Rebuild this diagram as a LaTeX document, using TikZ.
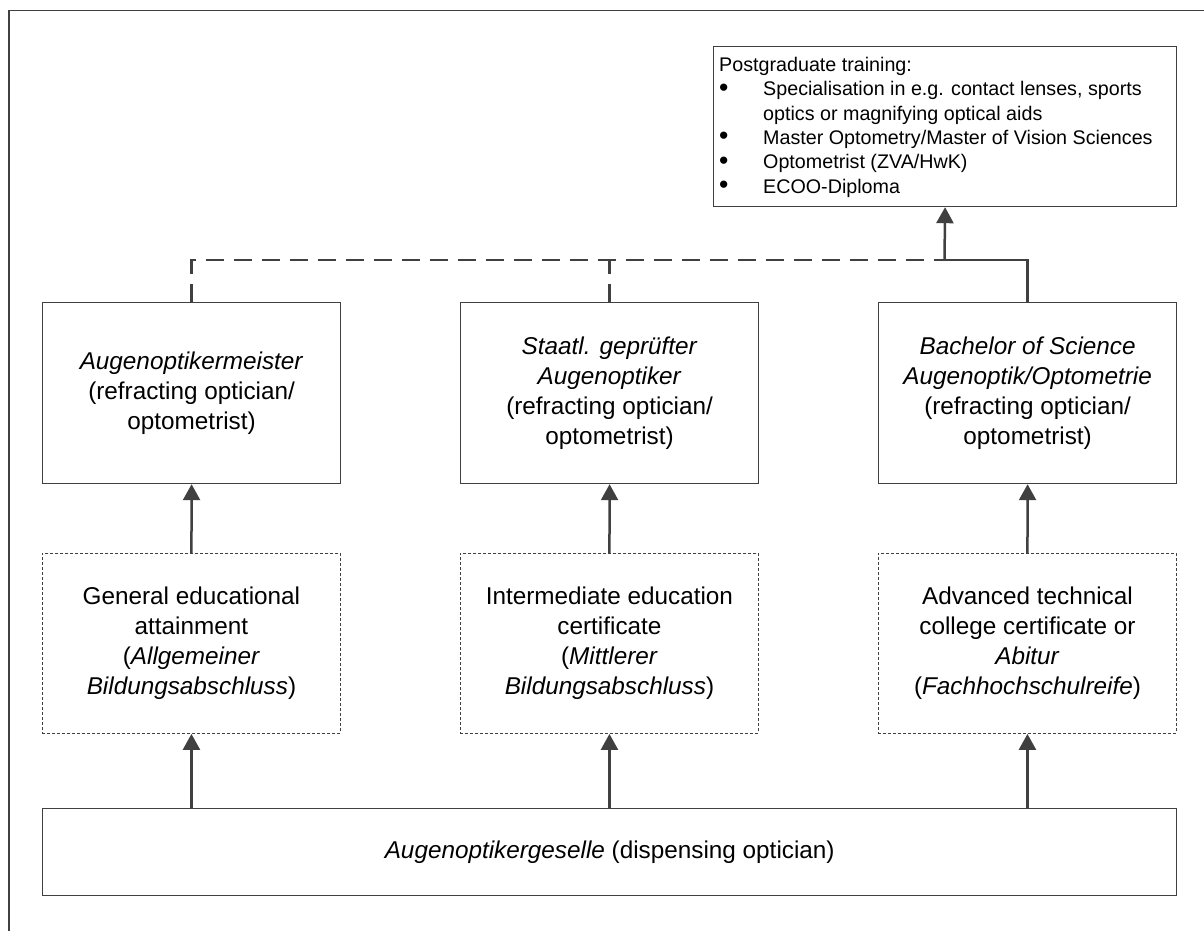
\documentclass[tikz,border=0pt]{standalone}
\usepackage{fontspec}
\setmainfont{Liberation Sans}
\usetikzlibrary{arrows.meta}
\definecolor{lc}{HTML}{404040}
\newcommand{\bigbul}{\raisebox{-0.5pt}{\scalebox{1.35}{\textbullet}}}
\begin{document}
\begin{tikzpicture}[x=1pt,y=-1pt,
  ubox/.style={draw=lc, line width=1.2pt, inner sep=0pt, anchor=north west, align=center,
    minimum width=298pt, minimum height=181pt, font=\fontsize{24.3}{30}\selectfont},
  dbox/.style={draw=lc, line width=0.9pt, dash pattern=on 3pt off 2pt, inner sep=0pt, anchor=north west, align=center,
    minimum width=298pt, minimum height=180pt, font=\fontsize{24.3}{30}\selectfont},
  conn/.style={draw=lc, line width=2.5pt, -{Triangle[length=16pt,width=17pt]}},
  dconn/.style={draw=lc, line width=2.5pt, dash pattern=on 18pt off 10pt},
  sconn/.style={draw=lc, line width=2.5pt}
]
\useasboundingbox (0,0) rectangle (1204,931);
% outer frame (top and left visible)
\draw[lc, line width=1.5pt] (9,931) -- (9,10.5) -- (1204,10.5);

% top box
\node[draw=lc, line width=1.2pt, inner sep=0pt, anchor=north west, minimum width=463pt, minimum height=160pt] (pg) at (713,46) {};
\node[anchor=north west, inner sep=0pt, align=left, font=\fontsize{19.7}{24.4}\selectfont] (pgtext) at (719,54)
{\begin{tabular}{@{}p{44pt}@{}l@{}}
\multicolumn{2}{@{}l@{}}{Postgraduate training:}\\
\bigbul & Specialisation in e.g. contact lenses, sports\\
 & optics or magnifying optical aids\\
\bigbul & Master Optometry/Master of Vision Sciences\\
\bigbul & Optometrist (ZVA/HwK)\\
\bigbul & ECOO-Diploma
\end{tabular}};

% upper row
\node[ubox] (aom) at (42,302) {\textit{Augenoptikermeister}\\(refracting optician/\\optometrist)};
\node[ubox] (sga) at (460,302) {\textit{Staatl. geprüfter}\\\textit{Augenoptiker}\\(refracting optician/\\optometrist)};
\node[ubox] (bsc) at (878,302) {\textit{Bachelor of Science}\\\textit{Augenoptik/Optometrie}\\(refracting optician/\\optometrist)};

% dashed row
\node[dbox] (gen) at (42,553) {General educational\\attainment\\(\textit{Allgemeiner}\\\textit{Bildungsabschluss})};
\node[dbox] (int) at (460,553) {Intermediate education\\certificate\\(\textit{Mittlerer}\\\textit{Bildungsabschluss})};
\node[dbox] (adv) at (878,553) {Advanced technical\\college certificate or\\\textit{Abitur}\\(\textit{Fachhochschulreife})};

% bottom box
\node[draw=lc, line width=1.4pt, inner sep=0pt, anchor=north west, minimum width=1134pt, minimum height=87pt,
  font=\fontsize{24.3}{30}\selectfont] (ges) at (42,808) {\textit{Augenoptikergeselle} (dispensing optician)};

% arrows from bottom box
\draw[conn] (ges.north -| gen.south) -- (gen.south);
\draw[conn] (ges.north -| int.south) -- (int.south);
\draw[conn] (ges.north -| adv.south) -- (adv.south);
% arrows dashed row to upper row
\draw[conn] (gen.north) -- (aom.south);
\draw[conn] (int.north) -- (sga.south);
\draw[conn] (adv.north) -- (bsc.south);

% connectors to postgraduate box
\coordinate (j) at (944.5,260);
\draw[dconn] (aom.north) |- (j);
\draw[dconn] (sga.north) -- (sga.north |- j);
\draw[sconn] (bsc.north) |- (j);
\draw[conn] (j) -- (pg.south);
\end{tikzpicture}
\end{document}
